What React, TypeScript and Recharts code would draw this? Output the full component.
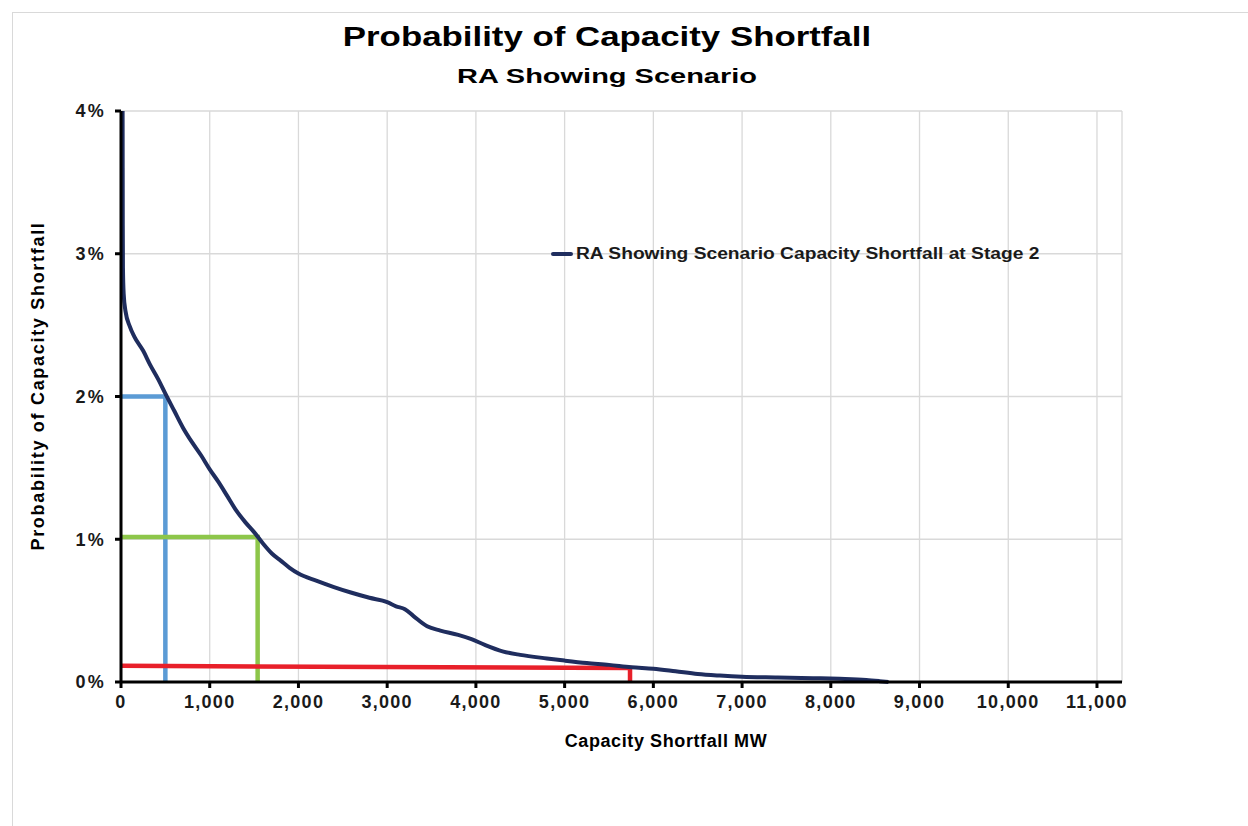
import React from 'react';
import { LineChart, Line, XAxis, YAxis, CartesianGrid } from 'recharts';

const shortfallMW = [18, 19, 20, 22, 30, 50, 100, 150, 250, 330, 420, 500, 600, 700, 800, 900, 1000, 1100, 1200, 1300, 1400, 1500, 1600, 1700, 1800, 1900, 2000, 2200, 2400, 2600, 2800, 3000, 3100, 3200, 3300, 3450, 3600, 3800, 3950, 4100, 4300, 4500, 4800, 5000, 5250, 5500, 5750, 6000, 6250, 6500, 6750, 7000, 7400, 7800, 8100, 8400, 8550, 8650];
const probabilityPct = [4.0, 3.6, 3.2, 2.9, 2.72, 2.6, 2.49, 2.42, 2.32, 2.22, 2.12, 2.02, 1.9, 1.78, 1.68, 1.59, 1.49, 1.4, 1.3, 1.2, 1.12, 1.05, 0.97, 0.9, 0.85, 0.8, 0.76, 0.71, 0.665, 0.625, 0.59, 0.56, 0.53, 0.51, 0.46, 0.39, 0.36, 0.33, 0.3, 0.26, 0.215, 0.19, 0.165, 0.15, 0.133, 0.12, 0.103, 0.093, 0.075, 0.056, 0.045, 0.037, 0.032, 0.027, 0.022, 0.014, 0.006, 0];

const blueX = [0, 500, 500];
const blueY = [2.0, 2.0, 0];
const greenX = [0, 1540, 1540];
const greenY = [1.015, 1.015, 0];
const redX = [0, 5737, 5737];
const redY = [0.113, 0.098, 0];

const xTicks = [0, 1000, 2000, 3000, 4000, 5000, 6000, 7000, 8000, 9000, 10000, 11000];
const yTicks = [0, 0.01, 0.02, 0.03, 0.04];

const seriesName = 'RA Showing Scenario Capacity Shortfall at Stage 2';

const build = (xs: number[], ys: number[]) => xs.map((x, i) => ({ x, y: ys[i] / 100 }));

const curveData = build(shortfallMW, probabilityPct);
const blueData = build(blueX, blueY);
const greenData = build(greenX, greenY);
const redData = build(redX, redY);

const FONT = 'Arial, "Liberation Sans", sans-serif';

export default function App() {
  return (
    <div style={{ position: 'absolute', left: 0, top: 0, width: 1248, height: 826, background: '#fff', overflow: 'hidden', fontFamily: FONT }}>
      <div style={{ position: 'absolute', left: 12, top: 12, width: 1260, height: 840, border: '1px solid #d9d9d9' }} />
      <div style={{ position: 'absolute', left: 0, width: 1214, top: 22, textAlign: 'center', fontWeight: 700, fontSize: 27, color: '#000', transform: 'scaleX(1.29)', transformOrigin: '607px 0' }}>
        Probability of Capacity Shortfall
      </div>
      <div style={{ position: 'absolute', left: 0, width: 1214, top: 64, textAlign: 'center', fontWeight: 700, fontSize: 21, color: '#000', transform: 'scaleX(1.38)', transformOrigin: '607px 0' }}>
        RA Showing Scenario
      </div>
      <div style={{ position: 'absolute', left: 0, width: 1332, top: 731, textAlign: 'center', fontWeight: 700, fontSize: 18, color: '#000', letterSpacing: 0.6 }}>
        Capacity Shortfall MW
      </div>
      <div style={{ position: 'absolute', left: 38, top: 386, width: 0, height: 0 }}>
        <div style={{ position: 'absolute', left: 0, top: 0, transform: 'translate(-50%, -50%) rotate(-90deg)', whiteSpace: 'nowrap', fontWeight: 700, fontSize: 18, color: '#000', letterSpacing: 1.7 }}>
          Probability of Capacity Shortfall
        </div>
      </div>
      <div style={{ position: 'absolute', left: 0, top: 0 }}>
        <LineChart width={1248} height={826} margin={{ top: 111, right: 126, bottom: 114, left: 61 }}>
          <CartesianGrid stroke="#d9d9d9" strokeWidth={1.3} />
          <XAxis
            type="number"
            dataKey="x"
            domain={[0, 11282]}
            ticks={xTicks}
            allowDataOverflow
            height={30}
            stroke="#000"
            strokeWidth={3}
            tickSize={6}
            tickMargin={7}
            tick={{ fill: '#1a1a1a', fontSize: 18, fontWeight: 700, fontFamily: FONT, letterSpacing: 1.3 }}
            tickFormatter={(v: number) => v.toLocaleString('en-US')}
          />
          <YAxis
            type="number"
            dataKey="y"
            domain={[0, 0.04]}
            ticks={yTicks}
            width={60}
            stroke="#000"
            strokeWidth={3}
            tickSize={6}
            tickMargin={9}
            tick={{ fill: '#1a1a1a', fontSize: 18, fontWeight: 700, fontFamily: FONT, letterSpacing: 2.2 }}
            tickFormatter={(v: number) => `${Math.round(v * 100)}%`}
          />
          <Line data={blueData} dataKey="y" type="linear" stroke="#5B9BD5" strokeWidth={4.5} dot={false} isAnimationActive={false} legendType="none" strokeLinejoin="miter" />
          <Line data={greenData} dataKey="y" type="linear" stroke="#8DC64A" strokeWidth={4.5} dot={false} isAnimationActive={false} legendType="none" strokeLinejoin="miter" />
          <Line data={redData} dataKey="y" type="linear" stroke="#E8202A" strokeWidth={4.5} dot={false} isAnimationActive={false} legendType="none" strokeLinejoin="miter" />
          <Line data={curveData} dataKey="y" name={seriesName} type="monotone" stroke="#1F2D5E" strokeWidth={4} dot={false} isAnimationActive={false} />
        </LineChart>
      </div>
      <div style={{ position: 'absolute', left: 551, top: 244, display: 'flex', alignItems: 'center', height: 20, fontWeight: 700, fontSize: 16, color: '#1a1a1a' }}>
        <span style={{ display: 'inline-block', width: 22, height: 4, background: '#1F2D5E', borderRadius: 2, marginRight: 3 }} />
        <span style={{ display: 'inline-block', transform: 'scaleX(1.2)', transformOrigin: '0 50%', whiteSpace: 'nowrap' }}>{seriesName}</span>
      </div>
    </div>
  );
}
